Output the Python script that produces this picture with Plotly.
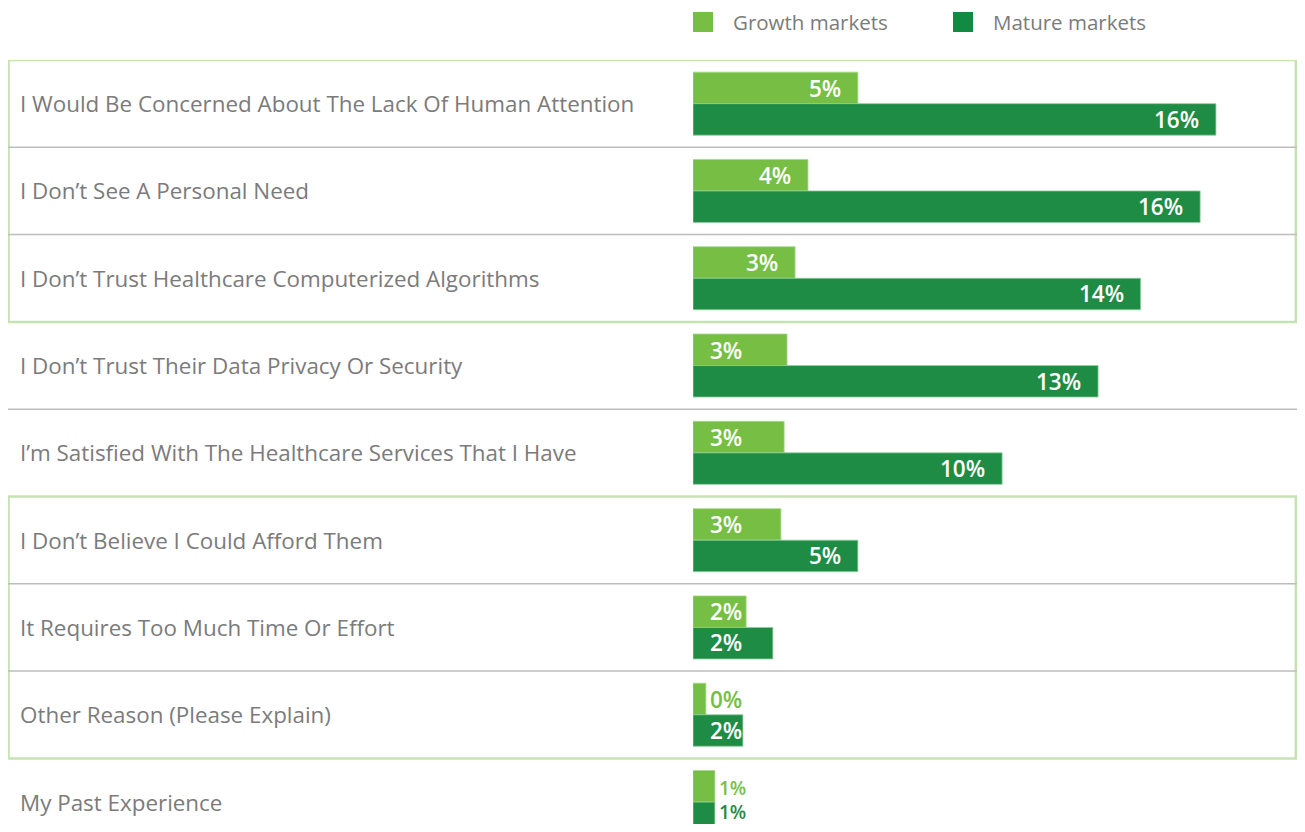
import plotly.graph_objects as go

# reasons for not using the services, top to bottom
reasons = [
    "I Would Be Concerned About The Lack Of Human Attention",
    "I Don\u2019t See A Personal Need",
    "I Don\u2019t Trust Healthcare Computerized Algorithms",
    "I Don\u2019t Trust Their Data Privacy Or Security",
    "I\u2019m Satisfied With The Healthcare Services That I Have",
    "I Don\u2019t Believe I Could Afford Them",
    "It Requires Too Much Time Or Effort",
    "Other Reason (Please Explain)",
    "My Past Experience",
]

# share of respondents, %
growth = [5.12, 3.57, 3.17, 2.92, 2.83, 2.73, 1.65, 0.40, 0.68]
mature = [16.24, 15.75, 13.90, 12.58, 9.60, 5.12, 2.48, 1.55, 0.68]

# printed labels
growth_labels = ["5%", "4%", "3%", "3%", "3%", "3%", "2%", "0%", "1%"]
mature_labels = ["16%", "16%", "14%", "13%", "10%", "5%", "2%", "2%", "1%"]

LIGHT = "#76bf44"
DARK = "#1f8c45"
GREY_TXT = "#7b7b7b"
FONT = "Open Sans"

# page shows the figure 8px in from the top-left corner (body margin)
OFF = 8
W, H = 1305 - 2 * OFF, 832 - 2 * OFF
TOP = 60 - OFF
PITCH = 87.3
X0 = 693 - OFF  # left edge of bars

fig = go.Figure()
fig.add_trace(go.Bar(y=reasons, x=growth, orientation="h", name="Growth markets",
                     marker=dict(color=LIGHT, line=dict(color="#a6d88a", width=0.8)),
                     hoverinfo="x+y"))
fig.add_trace(go.Bar(y=reasons, x=mature, orientation="h", name="Mature markets",
                     marker=dict(color=DARK, line=dict(color="#8fcf9c", width=0.8)),
                     hoverinfo="x+y"))

ann = []
last = len(reasons) - 1
# value labels: inside at the bar end, or after the bar when it is too short
for vals, labs, color, dy in [(growth, growth_labels, LIGHT, 15.5), (mature, mature_labels, DARK, -15.5)]:
    for i, (r, v, t) in enumerate(zip(reasons, vals, labs)):
        if v < 1.0:
            a = dict(x=v, xanchor="left", xshift=3, font_color=color)
        elif v < 3.0:
            a = dict(x=0, xanchor="left", xshift=16, font_color="white")
        else:
            a = dict(x=v, xanchor="right", xshift=-16, font_color="white")
        size, shift = 22.5, dy
        if i == last:
            # bottom row runs off the page: squeeze its labels so both stay visible
            size, shift = 19, (14.5 if dy > 0 else -9.5)
        ann.append(dict(y=r, yshift=shift, text=t, showarrow=False, yanchor="middle",
                        xref="x", yref="y", borderpad=0,
                        font=dict(family=FONT, size=size, weight=600, color=a.pop("font_color")),
                        **a))

# category labels on the left
for r in reasons:
    ann.append(dict(x=(18 - OFF) / W, xref="paper", y=r, yref="y", text=r, showarrow=False,
                    xanchor="left", yanchor="middle",
                    font=dict(family=FONT, size=22.4, color=GREY_TXT)))

# legend (drawn by hand for the large square swatches)
py = lambda p: (H - (p - OFF)) / (H - TOP)
shapes = []
for x0, col, name in [(693, LIGHT, "Growth markets"), (953, "#138a42", "Mature markets")]:
    shapes.append(dict(type="rect", xref="paper", yref="paper", x0=(x0 - OFF) / W,
                       x1=(x0 + 20 - OFF) / W, y0=py(32), y1=py(12), fillcolor=col, line_width=0))
    ann.append(dict(x=(x0 + 38 - OFF) / W, xref="paper", y=py(22), yref="paper", text=name,
                    showarrow=False, xanchor="left", yanchor="middle",
                    font=dict(family=FONT, size=20.5, color=GREY_TXT)))

# grey row separators
for b in [0.5, 1.5, 3.5, 5.5, 6.5]:
    shapes.append(dict(type="line", xref="paper", yref="y", x0=0, x1=1,
                       y0=b, y1=b, line=dict(color="#bdbdbd", width=1.5)))
# light green group frames
for y0, y1 in [(-0.5, 2.5), (4.5, 7.5)]:
    shapes.append(dict(type="rect", xref="paper", yref="y", x0=0.5 / W, x1=(W - 1.2) / W,
                       y0=y0, y1=y1, line=dict(color="#c5e3b2", width=2.5), layer="below"))

fig.update_layout(
    width=W, height=H,
    margin=dict(l=0, r=0, t=TOP, b=0),
    barmode="group", bargap=0.278, bargroupgap=0,
    plot_bgcolor="white", paper_bgcolor="white",
    showlegend=False,
    xaxis=dict(domain=[X0 / W, 1], range=[0, (W - X0) / 32.2], visible=False, fixedrange=True),
    yaxis=dict(type="category", range=[-0.5 + (H - TOP) / PITCH, -0.5], visible=False,
               fixedrange=True),
    annotations=ann, shapes=shapes,
    font=dict(family=FONT),
)

fig.write_html("out.html")
